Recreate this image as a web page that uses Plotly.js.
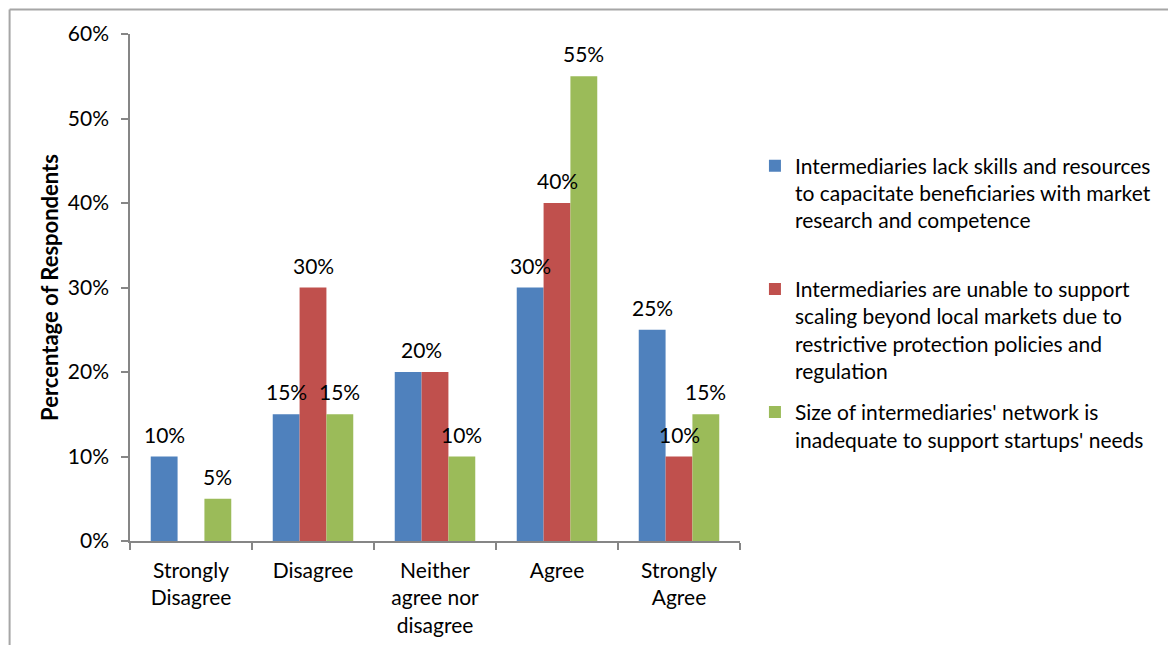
<!DOCTYPE html>
<html>
<head>
<meta charset="utf-8">
<script src="https://cdn.plot.ly/plotly-3.0.1.min.js"></script>
<style>
  html, body { margin: 0; padding: 0; background: #ffffff; }
  #chart { width: 1168px; height: 645px; }
</style>
</head>
<body>
<div id="chart"></div>
<script>
// ---- Data ----
const categories = ["Strongly<br>Disagree", "Disagree", "Neither<br>agree nor<br>disagree", "Agree", "Strongly<br>Agree"];
const seriesNames = [
  "Intermediaries lack skills and resources<br>to capacitate beneficiaries with market<br>research and competence<br> ",
  "Intermediaries are unable to support<br>scaling beyond local markets due to<br>restrictive protection policies and<br>regulation",
  "Size of intermediaries' network is<br>inadequate to support startups' needs"
];
const lackSkills = [0.10, 0.15, 0.20, 0.30, 0.25];
const unableToScale = [0.00, 0.30, 0.20, 0.40, 0.10];
const networkSize = [0.05, 0.15, 0.10, 0.55, 0.15];
const yTickVals = [0, 0.1, 0.2, 0.3, 0.4, 0.5, 0.6];
const yTickText = ["0%", "10%", "20%", "30%", "40%", "50%", "60%"];

const seriesValues = [lackSkills, unableToScale, networkSize];
const colors = ["#4F81BD", "#C0504D", "#9BBB59"];

const FONT = "Lato, 'Open Sans', sans-serif";
const FS = 21;

const traces = seriesValues.map((vals, i) => ({
  type: "bar",
  name: seriesNames[i],
  legendgroup: "g" + i,
  x: categories,
  y: vals,
  marker: { color: colors[i], line: { width: 0 } },
  hoverinfo: "none"
}));

// Data labels: derived from the same arrays
const plotW = 1168 - 130 - 425;
const catW = plotW / categories.length;
const bargap = 0.34;
const barW = catW * (1 - bargap) / 3;
const annotations = [];
seriesValues.forEach((vals, i) => {
  vals.forEach((v, j) => {
    if (v <= 0) return;
    // identical neighbouring labels (series 1 and 2 equal) are shown once, centred
    if (i === 1 && seriesValues[0][j] === v) return;
    let shift = (i - 1) * barW;
    if (i === 0 && seriesValues[1][j] === v) shift = -barW / 2;
    annotations.push({
      x: categories[j], y: v, xref: "x", yref: "y",
      text: Math.round(v * 100) + "%",
      showarrow: false, yanchor: "bottom",
      xshift: shift, yshift: 8,
      font: { family: FONT, size: FS, color: "#000000" }
    });
  });
});

// Outer frame lines (chart border partially visible)
const px = (p) => (p - 130) / plotW;
const py = (p) => (541 - p) / (541 - 33.5);
const shapes = [
  { type: "line", xref: "paper", yref: "paper", x0: px(9), x1: px(1200), y0: py(9), y1: py(9), line: { color: "#a6a6a6", width: 2 } },
  { type: "line", xref: "paper", yref: "paper", x0: px(9), x1: px(9), y0: py(9), y1: py(700), line: { color: "#a6a6a6", width: 2 } }
];

const layout = {
  width: 1168, height: 645,
  margin: { l: 130, r: 425, t: 33.5, b: 104, pad: 0 },
  paper_bgcolor: "#ffffff",
  plot_bgcolor: "#ffffff",
  font: { family: FONT, size: FS, color: "#000000" },
  barmode: "group",
  bargap: bargap,
  bargroupgap: 0,
  showlegend: true,
  legend: {
    x: 1.0245, xanchor: "left",
    y: 0.78, yanchor: "top",
    valign: "top",
    font: { family: FONT, size: FS, color: "#000000" },
    tracegroupgap: 11,
    itemclick: false, itemdoubleclick: false,
    bgcolor: "rgba(0,0,0,0)"
  },
  xaxis: {
    type: "category",
    showline: true, linecolor: "#868686", linewidth: 1.5,
    ticks: "outside", tickson: "boundaries", ticklen: 7, tickcolor: "#868686", tickwidth: 1.5,
    ticklabelstandoff: 10,
    tickfont: { family: FONT, size: FS, color: "#000000" },
    showgrid: false, zeroline: false, fixedrange: true
  },
  yaxis: {
    range: [0, 0.6],
    tickvals: yTickVals, ticktext: yTickText,
    showline: true, linecolor: "#868686", linewidth: 1.5,
    ticks: "outside", ticklen: 7, tickcolor: "#868686", tickwidth: 1.5,
    ticklabelstandoff: 8,
    tickfont: { family: FONT, size: FS, color: "#000000" },
    showgrid: false, zeroline: false, fixedrange: true,
    title: { text: "<b>Percentage of Respondents</b>", font: { family: FONT, size: 22, color: "#000000" }, standoff: 3 }
  },
  annotations: annotations,
  shapes: shapes
};

Plotly.newPlot("chart", traces, layout, { displayModeBar: false, staticPlot: false, responsive: false });
</script>
</body>
</html>
